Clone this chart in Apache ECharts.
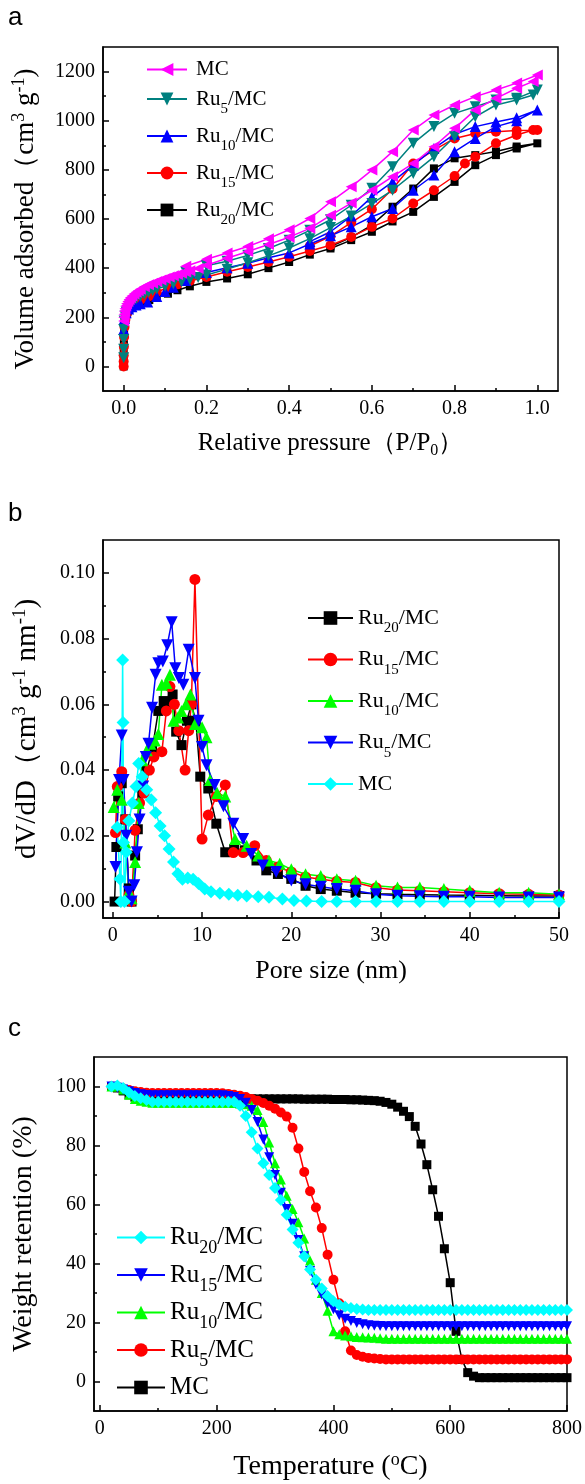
<!DOCTYPE html>
<html>
<head>
<meta charset="utf-8">
<script src="https://cdn.jsdelivr.net/npm/echarts@6/dist/echarts.min.js"></script>
<style>
html, body { margin: 0; padding: 0; background: #fff; }
#main { width: 585px; height: 1484px; }
</style>
</head>
<body>
<div id="main"></div>
<script>
// ---- (a) N2 isotherms: [P/P0, volume], adsorption then desorption ----
var isoMC = [[0,185],[0.0005,200],[0.001,212],[0.002,225],[0.003,235],[0.005,246],[0.007,255],[0.01,264],[0.013,272],[0.016,279],[0.02,287],[0.025,295],[0.03,302],[0.035,308],[0.04,314],[0.05,324],[0.06,332],[0.07,339],[0.08,346],[0.09,352],[0.1,358],[0.11,364],[0.12,369],[0.13,374],[0.14,379],[0.15,384],[0.16,389],[0.18,399],[0.2,412],[0.25,440],[0.3,468],[0.35,496],[0.4,526],[0.45,562],[0.5,615],[0.55,665],[0.6,717],[0.65,772],[0.7,826],[0.75,894],[0.8,969],[0.85,1044],[0.9,1091],[0.95,1132],[0.99,1160],[1.0,1186],[0.95,1153],[0.9,1125],[0.85,1098],[0.8,1064],[0.75,1023],[0.7,962],[0.65,874],[0.6,799],[0.55,731],[0.5,670],[0.45,602],[0.4,556],[0.35,520],[0.3,488],[0.25,462],[0.2,436],[0.15,408]];
var isoRu5 = [[0,35],[0,70],[0,110],[0,150],[0.001,185],[0.003,205],[0.006,222],[0.01,236],[0.015,250],[0.02,260],[0.03,274],[0.04,285],[0.05,294],[0.06,302],[0.07,309],[0.08,315],[0.1,326],[0.12,336],[0.14,345],[0.16,354],[0.18,362],[0.2,372],[0.25,396],[0.3,422],[0.35,450],[0.4,482],[0.45,520],[0.5,565],[0.55,612],[0.6,663],[0.65,717],[0.7,785],[0.75,853],[0.8,935],[0.85,1016],[0.9,1064],[0.95,1084],[0.99,1105],[1.0,1125],[0.95,1091],[0.9,1084],[0.85,1057],[0.8,1030],[0.75,976],[0.7,908],[0.65,813],[0.6,725],[0.55,656],[0.5,597],[0.45,554],[0.4,514],[0.35,480],[0.3,452],[0.25,428],[0.2,410],[0.15,384]];
var isoRu10 = [[0,150],[0.002,195],[0.006,218],[0.012,234],[0.02,243],[0.03,250],[0.04,255],[0.058,262],[0.08,285],[0.1,305],[0.12,322],[0.15,350],[0.2,382],[0.25,402],[0.3,420],[0.35,442],[0.4,462],[0.45,498],[0.5,532],[0.55,568],[0.6,609],[0.65,643],[0.7,717],[0.75,779],[0.8,874],[0.85,928],[0.9,976],[0.95,1000],[1.0,1044],[0.95,1012],[0.9,995],[0.85,976],[0.8,945],[0.75,887],[0.7,819],[0.65,751],[0.6,690],[0.55,612],[0.5,548],[0.45,508]];
var isoRu15 = [[0,0],[0,20],[0,45],[0.0005,80],[0.001,120],[0.002,160],[0.004,190],[0.007,210],[0.01,225],[0.015,240],[0.02,250],[0.03,262],[0.04,271],[0.05,278],[0.062,286],[0.08,302],[0.107,322],[0.13,334],[0.16,348],[0.2,364],[0.25,385],[0.3,405],[0.35,425],[0.4,446],[0.45,470],[0.5,493],[0.55,527],[0.6,568],[0.65,602],[0.7,663],[0.75,717],[0.8,775],[0.825,826],[0.85,853],[0.9,908],[0.95,942],[0.99,962],[1.0,962],[0.95,960],[0.9,955],[0.85,948],[0.8,928],[0.75,880],[0.7,826],[0.65,722],[0.6,640],[0.55,585],[0.5,530],[0.45,490]];
var isoRu20 = [[0,0],[0,25],[0,60],[0.0005,100],[0.001,140],[0.002,170],[0.004,195],[0.007,212],[0.01,224],[0.015,236],[0.02,244],[0.03,254],[0.04,260],[0.05,265],[0.062,270],[0.08,283],[0.107,296],[0.13,310],[0.16,326],[0.2,344],[0.25,358],[0.3,375],[0.35,400],[0.4,425],[0.45,455],[0.5,480],[0.55,514],[0.6,548],[0.65,590],[0.7,629],[0.75,690],[0.8,751],[0.85,819],[0.9,860],[0.95,887],[1.0,908],[0.95,895],[0.9,875],[0.85,860],[0.8,847],[0.75,806],[0.7,724],[0.65,650],[0.6,575],[0.55,525],[0.5,488]];

// ---- (b) pore size distribution: [D (nm), dV/dD] ----
var poreRu20 = [[0.2,0.0],[0.4,0.0166],[0.6,0.032],[1.0,0.036],[1.4,0.025],[1.8,0.004],[2.1,0.0],[2.5,0.014],[2.8,0.022],[3.3,0.033],[3.8,0.04],[4.4,0.046],[5.1,0.058],[5.7,0.061],[6.2,0.0604],[6.7,0.063],[7.1,0.0517],[7.7,0.0476],[8.3,0.055],[8.8,0.06],[9.3,0.055],[9.8,0.038],[10.7,0.0344],[11.6,0.0237],[12.6,0.015],[13.6,0.016],[14.8,0.0156],[16.1,0.0125],[17.2,0.0095],[18.5,0.0084],[20,0.0069],[21.6,0.0048],[23.3,0.0038],[25.1,0.0033],[27.2,0.0027],[29.5,0.0024],[31.9,0.0022],[34.4,0.0021],[37.1,0.002],[40,0.0019],[43.3,0.0018],[46.6,0.0017],[50,0.0017]];
var poreRu15 = [[0.3,0.021],[0.5,0.035],[1.0,0.0395],[1.4,0.025],[1.8,0.002],[2.1,0.0],[2.5,0.0217],[3.0,0.03],[3.5,0.033],[4.1,0.04],[4.6,0.044],[5.5,0.0456],[6.0,0.058],[6.4,0.0654],[6.9,0.06],[7.4,0.052],[8.1,0.04],[8.5,0.052],[8.8,0.06],[9.2,0.098],[10,0.019],[10.7,0.0263],[11.6,0.032],[12.6,0.0355],[13.5,0.0149],[14.6,0.0149],[15.9,0.017],[17.2,0.0125],[18.5,0.0105],[20,0.009],[21.6,0.0075],[23.3,0.0068],[25.1,0.0062],[27.2,0.0058],[29.5,0.0042],[31.9,0.0035],[34.4,0.0033],[37.1,0.003],[40,0.0027],[43.3,0.0024],[46.6,0.0022],[50,0.002]];
var poreRu10 = [[0.1,0.0288],[0.5,0.034],[1.0,0.031],[1.4,0.018],[1.8,0.003],[2.1,0.001],[2.5,0.012],[2.9,0.03],[3.3,0.043],[3.8,0.046],[4.2,0.048],[4.7,0.049],[5.1,0.051],[5.5,0.066],[6.0,0.0665],[6.4,0.069],[6.8,0.055],[7.3,0.056],[7.7,0.058],[8.2,0.06],[8.7,0.063],[9.2,0.054],[10,0.053],[10.5,0.05],[10.9,0.037],[11.7,0.033],[12.6,0.032],[13.7,0.019],[15,0.017],[16.3,0.014],[17.5,0.0125],[18.7,0.0115],[20,0.0098],[21.6,0.0083],[23.3,0.0078],[25.1,0.0068],[27.2,0.0063],[29.5,0.0048],[31.9,0.0043],[34.4,0.0043],[37.1,0.0038],[40,0.0033],[43.3,0.0027],[46.6,0.0027],[50,0.0022]];
var poreRu5 = [[0.3,0.0105],[0.7,0.037],[1.0,0.0505],[1.2,0.037],[1.5,0.02],[1.8,0.003],[2.1,0.0],[2.4,0.005],[2.7,0.015],[3.0,0.025],[3.4,0.035],[3.7,0.044],[4.0,0.048],[4.4,0.059],[4.8,0.069],[5.1,0.0725],[5.6,0.073],[6.1,0.078],[6.6,0.085],[7.0,0.071],[7.4,0.068],[7.9,0.066],[8.5,0.0766],[9.2,0.068],[9.6,0.055],[10,0.047],[10.5,0.0415],[11.4,0.0355],[12.4,0.029],[13.5,0.0237],[14.6,0.019],[15.5,0.0145],[16.8,0.011],[18.3,0.009],[20,0.0064],[21.6,0.0053],[23.3,0.0045],[25.1,0.0038],[27.2,0.0033],[29.5,0.0022],[31.9,0.0018],[34.4,0.0016],[37.1,0.0015],[40,0.0015],[43.3,0.0012],[46.6,0.0012],[50,0.0012]];
var poreMC = [[0.5,0.0226],[0.8,0.0069],[0.9,0.0],[1.1,0.0735],[1.15,0.0545],[1.2,0.018],[1.3,0.0],[1.5,0.015],[1.8,0.0246],[2.2,0.03],[2.6,0.035],[2.9,0.042],[3.3,0.038],[3.8,0.034],[4.3,0.031],[4.8,0.027],[5.3,0.023],[5.8,0.02],[6.3,0.016],[6.8,0.012],[7.3,0.0085],[7.8,0.0068],[8.4,0.0072],[9.0,0.0068],[9.6,0.0055],[10.3,0.0038],[11.0,0.003],[12.0,0.0025],[13.0,0.0022],[14.0,0.0019],[15.0,0.0017],[16.3,0.0015],[17.5,0.0013],[19.0,0.0008],[20.3,0.0003],[21.7,0.0002],[23.4,0],[25.1,0],[27.2,0],[29.5,0],[31.9,0],[34.4,0],[37.1,0],[40,0],[43.3,0],[46.6,0],[50,0]];

// ---- (c) TGA: temperature (°C) and weight retention (%) ----
var tgaTemp = [20,30,40,50,60,70,80,90,100,110,120,130,140,150,160,170,180,190,200,210,220,230,240,250,260,270,280,290,300,310,320,330,340,350,360,370,380,390,400,410,420,430,440,450,460,470,480,490,500,510,520,530,540,550,560,570,580,590,600,610,620,630,640,650,660,670,680,690,700,710,720,730,740,750,760,770,780,790,800];
var tgaMC = [100,99.5,98.5,97.2,96.4,96.0,95.9,
  95.8,95.8,95.8,95.8,95.8,95.8,95.8,95.8,95.8,95.8,95.8,95.8,95.8,95.8,95.8,95.8,95.8,95.8,95.8,95.8,95.8,95.8,95.8,95.8,95.8,95.8,
  95.7,95.7,95.7,95.7,95.7,95.6,95.6,95.6,
  95.5,95.5,95.4,95.3,95.2,95.0,94.6,94.0,93.0,91.6,89.8,86.5,80.5,73.5,65,56,45,33.5,17,7.5,3,1.8,
  1.3,1.3,1.3,1.3,1.3,1.3,1.3,1.3,1.3,1.3,1.3,1.3,1.3,1.3,1.3,1.3];
var tgaRu5 = [100,100,99.3,98.8,98.4,98.1,97.9,
  97.8,97.8,97.8,97.8,97.8,97.8,97.8,97.8,97.8,97.8,97.8,97.8,
  97.7,97.5,97.2,96.9,96.4,95.8,95.2,94.4,93.5,92.5,91.2,89.8,86,79,71,64.5,59,52,43,34.5,26.5,17,10.5,9,8.4,8.0,7.8,7.6,
  7.5,7.5,7.5,7.5,7.5,7.5,7.5,7.5,7.5,7.5,7.5,7.5,7.5,7.5,7.5,7.5,7.5,7.5,7.5,7.5,7.5,7.5,7.5,7.5,7.5,7.5,7.5,7.5,7.5,7.5,7.5,7.5];
var tgaRu10 = [100,100,99,97.2,95.8,95.2,94.8,
  94.5,94.5,94.5,94.5,94.5,94.5,94.5,94.5,94.5,94.5,94.5,94.5,94.5,94.5,
  94.4,94.2,94.0,93.5,92,88,81,74,68.5,63,58.5,54,48.5,41,34.5,30,24,17,16,15.6,15.3,15.1,15,14.9,14.8,14.7,
  14.5,14.5,14.5,14.5,14.5,14.5,14.5,14.5,14.5,14.5,14.5,14.5,14.5,14.5,14.5,14.5,14.5,14.5,14.5,14.5,14.5,14.5,14.5,14.5,14.5,14.5,14.5,14.5,14.5,14.5,14.5,14.5];
var tgaRu15 = [100,99.6,99,98.4,97.8,97.4,97.1,
  97,97,97,97,97,97,97,97,97,97,97,97,97,
  96.8,96.4,95.8,94.5,92,88,82,76,70,64,58.5,53.5,48,42.5,37.5,33,29.5,26.5,24.5,22.5,21.3,20.5,19.8,19.4,19.1,18.9,18.8,
  18.7,18.7,18.7,18.7,18.7,18.7,18.7,18.7,18.7,18.7,18.7,18.7,18.7,18.7,18.7,18.7,18.7,18.7,18.7,18.7,18.7,18.7,18.7,18.7,18.7,18.7,18.7,18.7,18.7,18.7,18.7,18.7];
var tgaRu20 = [100,100.3,99.5,98,96.8,96,95.4,
  94.8,94.8,94.8,94.8,94.8,94.8,94.8,94.8,94.8,94.8,94.8,94.8,94.8,94.8,94.8,
  93.5,90,84.5,79,74,70,65.6,61.5,56.5,51.5,47,42.5,38,34.5,31.5,29,27.2,26,25.3,24.9,24.6,24.4,
  24.2,24.2,24.2,24.2,24.2,24.2,24.2,24.2,24.2,24.2,24.2,24.2,24.2,24.2,24.2,24.2,24.2,24.2,24.2,24.2,24.2,24.2,24.2,24.2,24.2,24.2,24.2,24.2,24.2,24.2,24.2,24.2,24.2,24.2,24.2];

// ---- tick values ----
var aXTicks = [0, 0.2, 0.4, 0.6, 0.8, 1.0], aXMinor = [0.1, 0.3, 0.5, 0.7, 0.9];
var aYTicks = [0, 200, 400, 600, 800, 1000, 1200], aYMinor = [100, 300, 500, 700, 900, 1100];
var bXTicks = [0, 10, 20, 30, 40, 50], bXMinor = [5, 15, 25, 35, 45];
var bYTicks = [0, 0.02, 0.04, 0.06, 0.08, 0.1], bYMinor = [0.01, 0.03, 0.05, 0.07, 0.09];
var cXTicks = [0, 200, 400, 600, 800], cXMinor = [100, 300, 500, 700];
var cYTicks = [0, 20, 40, 60, 80, 100], cYMinor = [10, 30, 50, 70, 90];

var SERIF = '"Liberation Serif", "Times New Roman", serif';
var myChart = echarts.init(document.getElementById('main'));

function tga(arr) {
  return tgaTemp.map(function (t, i) { return [t, arr[i]]; });
}

function mainAxis(grid, pos, min, max, ticks, fmt, name, gap, fs) {
  return {
    type: 'value', gridIndex: grid, position: pos, min: min, max: max,
    axisLine: { onZero: false, lineStyle: { color: '#000', width: 1.5 } },
    axisTick: { inside: true, length: 6, customValues: ticks, lineStyle: { color: '#000', width: 1.5 } },
    axisLabel: { customValues: ticks, formatter: fmt, margin: 8, color: '#000', fontFamily: SERIF, fontSize: 20 },
    splitLine: { show: false },
    name: name, nameLocation: 'middle', nameGap: gap,
    nameTextStyle: { color: '#000', fontFamily: SERIF, fontSize: fs, lineHeight: 32, rich: nameRich(fs) }
  };
}
function minorAxis(grid, pos, min, max, ticks) {
  return {
    type: 'value', gridIndex: grid, position: pos, min: min, max: max,
    axisLine: { show: false, onZero: false },
    axisTick: { inside: true, length: 3, customValues: ticks, lineStyle: { color: '#000', width: 1.5 } },
    axisLabel: { show: false },
    splitLine: { show: false }
  };
}
function nameRich(fs) {
  return {
    t: { fontFamily: SERIF, fontSize: fs, color: '#000', lineHeight: 32, verticalAlign: 'middle' },
    p: { fontFamily: SERIF, fontSize: Math.round(fs * 0.66), color: '#000', lineHeight: 20, verticalAlign: 'top' },
    b: { fontFamily: SERIF, fontSize: Math.round(fs * 0.62), color: '#000', lineHeight: 8, verticalAlign: 'bottom' }
  };
}
function line(name, data, ax, symbol, size, color, rotate) {
  return {
    name: name, type: 'line', xAxisIndex: ax, yAxisIndex: ax, data: data,
    symbol: symbol, symbolSize: size, symbolRotate: rotate || 0, showAllSymbol: true,
    itemStyle: { color: color }, lineStyle: { color: color, width: 1.5 },
    emphasis: { disabled: true }
  };
}
function legendText(name) {
  var t = name.split(':')[1];
  var m = t.match(/^Ru(\d+)\/MC$/);
  if (m) return '{f|Ru}{s|' + m[1] + '}{n|/MC}';
  return '{f|' + t + '}';
}
// the tall line height leaves room below the text so the bottom-aligned subscript drops
function legend(names, left, top, gap, w, h, fs, lh, padLeft) {
  return {
    data: names, orient: 'vertical', left: left, top: top, padding: 0,
    itemGap: gap, itemWidth: w, itemHeight: h, selectedMode: false,
    formatter: legendText,
    textStyle: {
      color: '#000', fontFamily: SERIF, fontSize: fs,
      rich: {
        f: { fontFamily: SERIF, fontSize: fs, color: '#000', lineHeight: lh, verticalAlign: 'middle', padding: [0, 0, 0, padLeft] },
        n: { fontFamily: SERIF, fontSize: fs, color: '#000', lineHeight: lh, verticalAlign: 'middle' },
        s: { fontFamily: SERIF, fontSize: Math.round(fs * 0.7), color: '#000', verticalAlign: 'bottom' }
      }
    }
  };
}

var option = {
  animation: false,
  backgroundColor: '#fff',
  grid: [
    { left: 103, right: 27, top: 47, height: 344, show: true, borderColor: '#000', borderWidth: 1.5 },
    { left: 103, right: 26, top: 540, height: 378, show: true, borderColor: '#000', borderWidth: 1.5 },
    { left: 91, right: 18, top: 1057, height: 363, show: true, borderColor: '#000', borderWidth: 1.5 }
  ],
  xAxis: [
    mainAxis(0, 'bottom', -0.05, 1.05, aXTicks, function (v) { return v.toFixed(1); },
      '{t|Relative pressure（P/P}{b|0}{t|）}', 36, 25),
    minorAxis(0, 'bottom', -0.05, 1.05, aXMinor),
    mainAxis(1, 'bottom', -1.1, 50, bXTicks, function (v) { return v; },
      '{t|Pore size (nm)}', 37, 26),
    minorAxis(1, 'bottom', -1.1, 50, bXMinor),
    mainAxis(2, 'bottom', -10, 800, cXTicks, function (v) { return v; },
      '{t|Temperature (}{p|o}{t|C)}', 40, 28),
    minorAxis(2, 'bottom', -10, 800, cXMinor)
  ],
  yAxis: [
    mainAxis(0, 'left', -100, 1300, aYTicks, function (v) { return v; },
      '{t|Volume adsorbed（cm}{p|3}{t| g}{p|-1}{t|)}', 61, 27),
    minorAxis(0, 'left', -100, 1300, aYMinor),
    mainAxis(1, 'left', -0.005, 0.11, bYTicks, function (v) { return v.toFixed(2); },
      '{t|dV/dD（cm}{p|3}{t| g}{p|-1}{t| nm}{p|-1}{t|)}', 60, 29),
    minorAxis(1, 'left', -0.005, 0.11, bYMinor),
    mainAxis(2, 'left', -10, 110, cYTicks, function (v) { return v; },
      '{t|Weight retention (%)}', 54, 28),
    minorAxis(2, 'left', -10, 110, cYMinor)
  ],
  legend: [
    legend(['a:MC', 'a:Ru5/MC', 'a:Ru10/MC', 'a:Ru15/MC', 'a:Ru20/MC'], 146, 59, 8.5, 40, 16, 21, 36, 4),
    legend(['b:Ru20/MC', 'b:Ru15/MC', 'b:Ru10/MC', 'b:Ru5/MC', 'b:MC'], 307, 607, 12.5, 45, 17, 22, 36, 0),
    legend(['c:Ru20/MC', 'c:Ru15/MC', 'c:Ru10/MC', 'c:Ru5/MC', 'c:MC'], 116, 1225, 5, 48, 17, 25, 40, 0)
  ],
  graphic: [
    { type: 'text', left: 8, top: 5, style: { text: 'a', font: '26px "Liberation Sans", Arial, sans-serif', fill: '#000' } },
    { type: 'text', left: 8, top: 501, style: { text: 'b', font: '26px "Liberation Sans", Arial, sans-serif', fill: '#000' } },
    { type: 'text', left: 8, top: 1016, style: { text: 'c', font: '26px "Liberation Sans", Arial, sans-serif', fill: '#000' } }
  ],
  series: [
    // (a)
    line('a:Ru20/MC', isoRu20, 0, 'rect', 8, '#000000'),
    line('a:Ru15/MC', isoRu15, 0, 'circle', 10, '#FF0000'),
    line('a:Ru10/MC', isoRu10, 0, 'triangle', 11, '#0000FF'),
    line('a:Ru5/MC', isoRu5, 0, 'triangle', 11, '#00807F', 180),
    line('a:MC', isoMC, 0, 'triangle', 11, '#FF00FF', 90),
    // (b)
    line('b:Ru20/MC', poreRu20, 2, 'rect', 10, '#000000'),
    line('b:Ru15/MC', poreRu15, 2, 'circle', 11, '#FF0000'),
    line('b:Ru10/MC', poreRu10, 2, 'triangle', 12, '#00FF00'),
    line('b:Ru5/MC', poreRu5, 2, 'triangle', 12, '#0000FF', 180),
    line('b:MC', poreMC, 2, 'diamond', 13, '#00FFFF'),
    // (c)
    line('c:MC', tga(tgaMC), 4, 'rect', 9, '#000000'),
    line('c:Ru5/MC', tga(tgaRu5), 4, 'circle', 10, '#FF0000'),
    line('c:Ru10/MC', tga(tgaRu10), 4, 'triangle', 10, '#00FF00'),
    line('c:Ru15/MC', tga(tgaRu15), 4, 'triangle', 10, '#0000FF', 180),
    line('c:Ru20/MC', tga(tgaRu20), 4, 'diamond', 12, '#00FFFF')
  ]
};

myChart.setOption(option);
</script>
</body>
</html>
